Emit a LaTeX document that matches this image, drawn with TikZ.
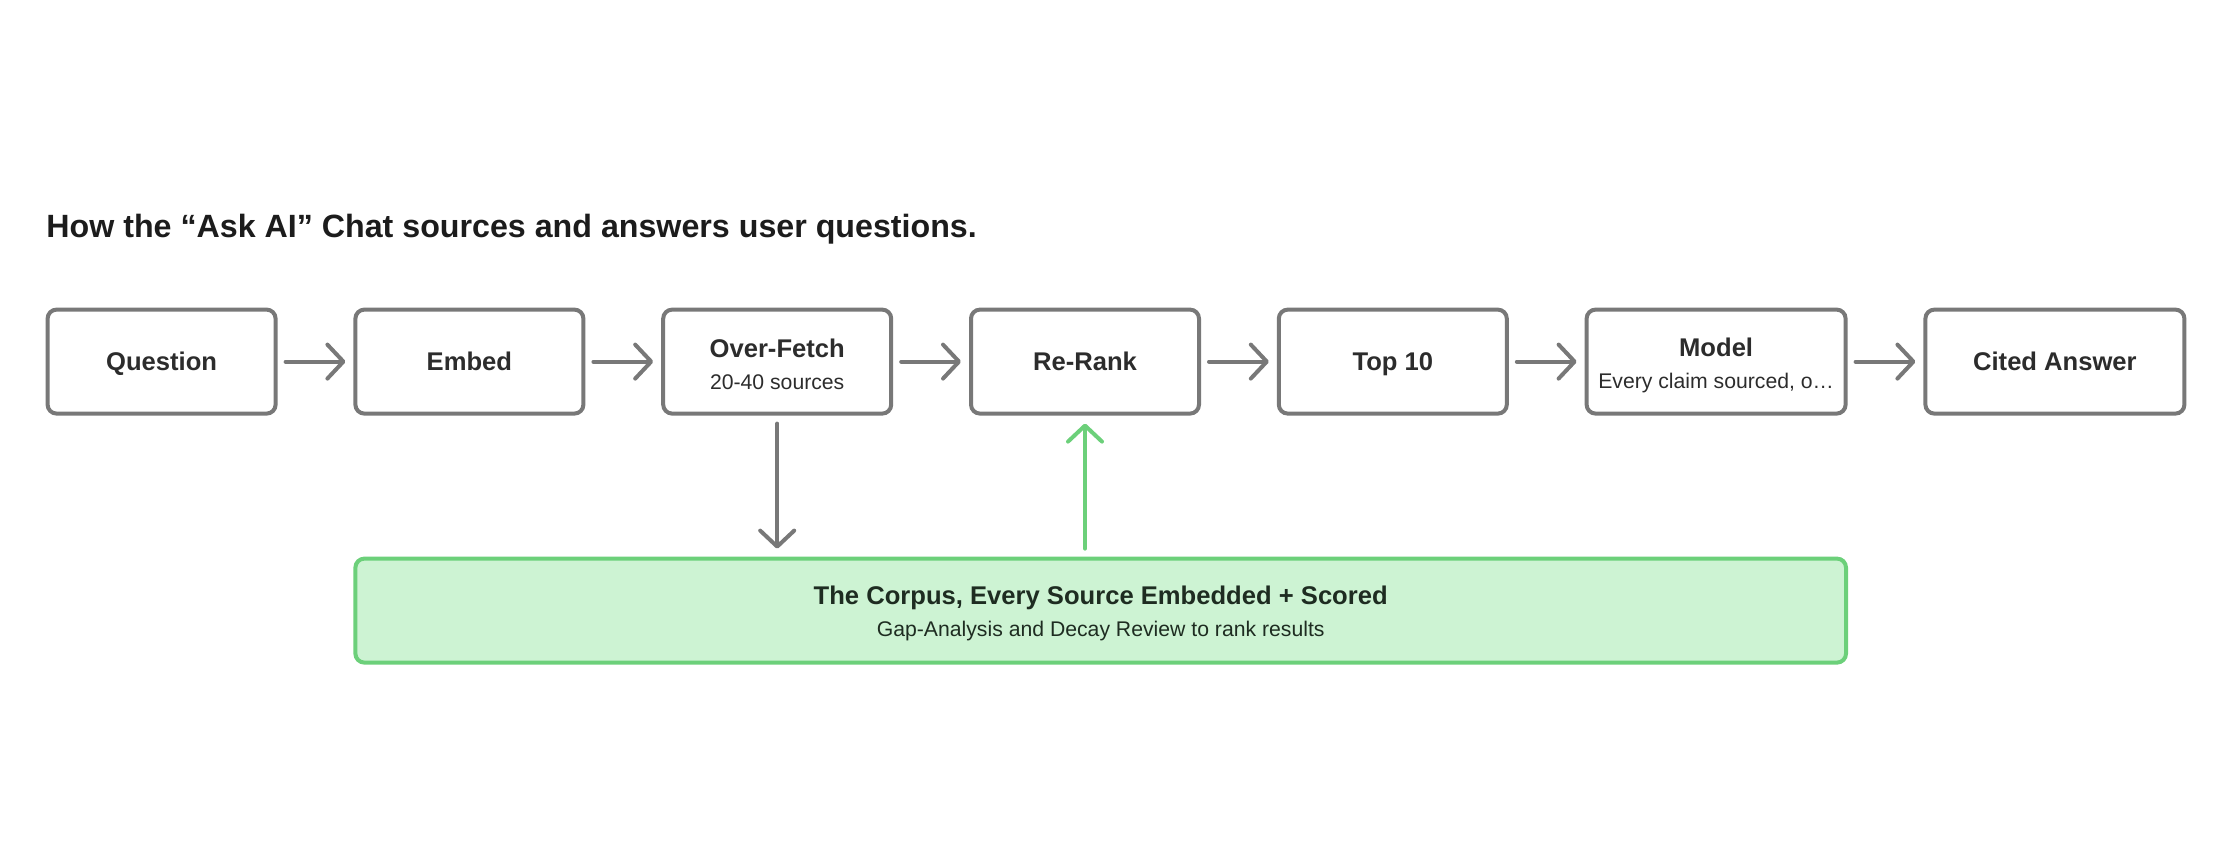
\documentclass[tikz,border=0pt]{standalone}
\usepackage{fontspec}
\setmainfont{Liberation Sans}
\usetikzlibrary{positioning,arrows.meta}

\definecolor{boxgray}{RGB}{120,120,120}
\definecolor{inkgray}{RGB}{44,44,44}
\definecolor{titleink}{RGB}{28,28,28}
\definecolor{corpusline}{RGB}{108,208,122}
\definecolor{corpusfill}{RGB}{205,243,211}
\definecolor{corpusink}{RGB}{30,44,33}

\newcommand{\labelfont}{\fontsize{12.8}{15}\selectfont\bfseries}
\newcommand{\subfont}{\fontsize{10.6}{13}\selectfont}
\newcommand{\topstrut}{\rule{0pt}{12.4pt}}

\tikzset{
	stage/.style={draw=boxgray, line width=2pt, rounded corners=4.5pt,
		minimum width=114pt, minimum height=52pt, inner sep=0pt,
		align=center, text=inkgray, font=\labelfont},
	oneline/.style={text height=9.2pt, text depth=0pt},
	widestage/.style={stage, minimum width=129.5pt},
	corpus/.style={stage, draw=corpusline, fill=corpusfill, text=corpusink,
		minimum width=745.3pt},
	flow/.style={draw=boxgray, line width=2pt, line cap=round,
		shorten <=4pt, shorten >=4pt,
		-{Straight Barb[length=8pt,width=17pt,line cap=round,line join=round]}},
	feed/.style={flow, draw=corpusline},
}

\begin{document}
\begin{tikzpicture}
	
	\useasboundingbox (0,0) rectangle (1116pt,-433.5pt);
	
	\node [font=\fontsize{16.1}{19}\selectfont\bfseries, text=titleink, anchor=base west, inner sep=0pt]
		(title) at (23pt,-118.5pt) {How the “Ask AI” Chat sources and answers user questions.};
	
	% pipeline
	\node [stage, oneline] (quest) at (80.8pt,-180.8pt) {Question};
	\node [stage, oneline, right=37.9pt of quest] (embed) {Embed};
	\node [stage, right=37.9pt of embed] (fetch) {\topstrut Over-Fetch\\[1pt]{\subfont\mdseries 20-40 sources}};
	\node [stage, oneline, right=37.9pt of fetch] (rerank) {Re-Rank};
	\node [stage, oneline, right=37.9pt of rerank] (top) {Top 10};
	\node [widestage, right=37.9pt of top] (model) {\rule{0pt}{13.4pt}Model\\[1pt]{\subfont\mdseries Every claim sourced, o…}};
	\node [widestage, oneline, right=37.9pt of model] (answer) {Cited Answer};
	
	\foreach \from/\to in {quest/embed, embed/fetch, fetch/rerank, rerank/top, top/model, model/answer} {
		\draw [flow] (\from) -- (\to);
	}
	
	% corpus
	\node [corpus, anchor=north west] (store) at ([yshift=-70.5pt]embed.south west)
		{\topstrut The Corpus, Every Source Embedded + Scored\\[1pt]{\subfont\mdseries Gap-Analysis and Decay Review to rank results}};
	
	\draw [flow] (fetch.south) -- (fetch.south |- store.north);
	\draw [feed] (store.north -| rerank.south) -- (rerank.south);
	
\end{tikzpicture}
\end{document}
